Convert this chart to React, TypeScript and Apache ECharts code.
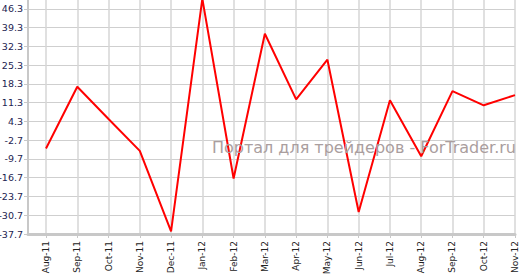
import React, { useEffect, useRef } from "react";
import * as echarts from "echarts";

const categories = [
  "Aug-11", "Sep-11", "Oct-11", "Nov-11", "Dec-11", "Jan-12", "Feb-12", "Mar-12",
  "Apr-12", "May-12", "Jun-12", "Jul-12", "Aug-12", "Sep-12", "Oct-12", "Nov-12",
];
const values = [-5.8, 17.2, 5.2, -6.7, -36.7, 50.0, -17.0, 37.0, 12.5, 27.3, -29.5, 12.2, -8.7, 15.6, 10.3, 14.1];
const yMin = -37.7;
const yMax = 53.3;
const yStep = 7;
const watermark = "Портал для трейдеров - ForTrader.ru";

export default function App() {
  const ref = useRef<HTMLDivElement>(null);
  useEffect(() => {
    if (!ref.current) return;
    const chart = echarts.init(ref.current, null, { renderer: "svg" });
    const gridBase = { top: -10, bottom: 43, right: 10, containLabel: false, outerBoundsMode: "none" };
    chart.setOption({
      animation: false,
      backgroundColor: "#ffffff",
      grid: [
        { ...gridBase, left: 28 },
        { ...gridBase, left: 46 },
      ],
      xAxis: [
        {
          gridIndex: 0,
          type: "value",
          min: 0,
          max: 1,
          axisLine: { show: true, onZero: false, lineStyle: { color: "#c8c8c8", width: 3 } },
          axisTick: { show: false },
          axisLabel: { show: false },
          splitLine: { show: false },
        },
        {
          gridIndex: 1,
          type: "category",
          boundaryGap: false,
          data: categories,
          axisLine: { show: false, onZero: false },
          axisTick: { show: true, length: 4, lineStyle: { color: "#c8c8c8", width: 1 } },
          axisLabel: {
            rotate: 90,
            margin: 7,
            interval: 0,
            fontFamily: "DejaVu Sans",
            fontSize: 9,
            color: "#222222",
          },
          splitLine: { show: true, lineStyle: { color: "#d6d6d6", width: 1.5 } },
        },
      ],
      yAxis: [
        {
          gridIndex: 0,
          type: "value",
          min: yMin,
          max: yMax,
          interval: yStep,
          axisLine: { show: true, lineStyle: { color: "#c8c8c8", width: 2 } },
          axisTick: { show: true, length: 4, lineStyle: { color: "#c8c8c8" } },
          axisLabel: {
            margin: 5,
            fontFamily: "DejaVu Sans",
            fontSize: 9.5,
            color: "#1b2250",
            formatter: (v: number) => v.toFixed(1),
          },
          splitLine: { show: true, lineStyle: { color: "#cfcfcf", width: 1 } },
        },
        {
          gridIndex: 1,
          type: "value",
          min: yMin,
          max: yMax,
          interval: yStep,
          show: false,
          splitLine: { show: false },
        },
      ],
      graphic: [
        {
          type: "text",
          right: 9,
          top: 139,
          z: 10,
          style: {
            text: watermark,
            fontFamily: "DejaVu Sans",
            fontSize: 16,
            fill: "#aa9e9e",
          },
        },
      ],
      series: [
        {
          type: "line",
          xAxisIndex: 1,
          yAxisIndex: 1,
          data: values,
          symbol: "none",
          lineStyle: { color: "#ff0000", width: 2 },
          z: 5,
        },
      ],
    });
    return () => chart.dispose();
  }, []);
  return (
    <div
      ref={ref}
      style={{ position: "fixed", left: 0, top: 0, width: 525, height: 277 }}
    />
  );
}
